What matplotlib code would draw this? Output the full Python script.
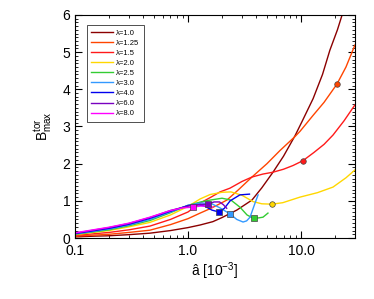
import matplotlib
matplotlib.use("Agg")
import matplotlib.pyplot as plt
from matplotlib.ticker import MultipleLocator, FixedLocator, FixedFormatter, LogLocator, NullFormatter

plt.rcParams['font.family'] = ['Liberation Sans', 'DejaVu Sans']
plt.rcParams['mathtext.fontset'] = 'custom'
plt.rcParams['mathtext.rm'] = 'Liberation Sans'
plt.rcParams['mathtext.it'] = 'Liberation Sans'

labels = ["λ=1.0", "λ=1.25", "λ=1.5", "λ=2.0", "λ=2.5", "λ=3.0", "λ=4.0", "λ=6.0", "λ=8.0"]
colors = ["#8B0000", "#FF4500", "#FF1A1A", "#FFD700", "#33CC33", "#3399FF", "#0000EE", "#7A00C0", "#FF00FF"]

a_l10 = [0.1, 0.15, 0.2, 0.3, 0.46, 0.7, 1.0, 1.28, 1.66, 2.0, 2.7, 3.68, 4.5, 5.65, 7.0, 8.85, 10.2, 12.8, 15.5, 18.0, 21.0, 23.1, 25.0]
b_l10 = [0.03, 0.05, 0.06, 0.09, 0.13, 0.2, 0.28, 0.35, 0.44, 0.55, 0.75, 1.02, 1.35, 1.77, 2.2, 2.75, 3.13, 3.75, 4.4, 5.05, 5.6, 6.0, 6.4]

a_l125 = [0.1, 0.2, 0.3, 0.46, 0.7, 1.0, 1.28, 1.6, 2.21, 2.8, 3.68, 5.0, 6.5, 8.85, 9.8, 12.8, 16.0, 20.8, 25.0, 30.0]
b_l125 = [0.05, 0.1, 0.15, 0.21, 0.36, 0.52, 0.67, 0.8, 1.02, 1.3, 1.64, 2.0, 2.35, 2.73, 2.87, 3.3, 3.65, 4.14, 4.6, 5.19]

a_l15 = [0.1, 0.2, 0.3, 0.46, 0.7, 1.0, 1.28, 1.6, 1.92, 2.35, 3.0, 3.68, 4.6, 5.65, 7.0, 8.5, 10.4, 13.0, 16.0, 19.2, 24.0, 30.0]
b_l15 = [0.07, 0.15, 0.22, 0.32, 0.5, 0.7, 0.94, 1.1, 1.24, 1.34, 1.52, 1.64, 1.72, 1.77, 1.85, 1.95, 2.08, 2.3, 2.52, 2.77, 3.15, 3.58]

a_l20 = [0.1, 0.2, 0.3, 0.46, 0.7, 1.0, 1.28, 1.57, 2.0, 2.4, 3.0, 3.76, 4.5, 5.53, 6.9, 9.8, 14.0, 19.2, 25.0, 30.0]
b_l20 = [0.09, 0.2, 0.3, 0.42, 0.62, 0.85, 1.05, 1.17, 1.23, 1.24, 1.15, 0.98, 0.92, 0.91, 0.95, 1.1, 1.22, 1.37, 1.62, 1.83]

a_l25 = [0.1, 0.2, 0.3, 0.46, 0.7, 1.0, 1.3, 1.57, 2.0, 2.4, 2.88, 3.33, 3.68, 3.84, 4.2, 4.61, 5.1]
b_l25 = [0.1, 0.22, 0.33, 0.47, 0.68, 0.88, 0.97, 1.02, 1.07, 1.02, 0.83, 0.62, 0.55, 0.54, 0.54, 0.56, 0.67]

a_l30 = [0.1, 0.2, 0.3, 0.46, 0.7, 1.0, 1.3, 1.6, 1.92, 2.36, 2.7, 3.07, 3.3, 3.54, 3.92, 4.17]
b_l30 = [0.11, 0.24, 0.35, 0.5, 0.7, 0.88, 0.94, 0.93, 0.81, 0.645, 0.5, 0.43, 0.46, 0.56, 0.94, 1.16]

a_l40 = [0.1, 0.2, 0.3, 0.46, 0.7, 1.0, 1.2, 1.4, 1.63, 1.88, 2.1, 2.36, 2.88, 3.5]
b_l40 = [0.12, 0.26, 0.37, 0.53, 0.72, 0.87, 0.9, 0.86, 0.75, 0.70, 0.8, 1.0, 1.16, 1.18]

a_l60 = [0.1, 0.2, 0.3, 0.46, 0.7, 1.0, 1.25, 1.5, 1.7, 1.9, 2.05, 2.2]
b_l60 = [0.13, 0.28, 0.39, 0.55, 0.74, 0.86, 0.9, 0.91, 0.97, 0.97, 0.9, 0.8]

a_l80 = [0.1, 0.2, 0.3, 0.46, 0.7, 0.9, 1.1, 1.3, 1.5, 1.65]
b_l80 = [0.14, 0.29, 0.4, 0.56, 0.74, 0.81, 0.83, 0.86, 0.86, 0.83]

series_a = [a_l10, a_l125, a_l15, a_l20, a_l25, a_l30, a_l40, a_l60, a_l80]
series_b = [b_l10, b_l125, b_l15, b_l20, b_l25, b_l30, b_l40, b_l60, b_l80]

# marker points (lambda index, a, B, marker)
mark_idx = [1, 2, 3, 4, 5, 6, 7, 8]
mark_a = [20.8, 10.4, 5.53, 3.84, 2.36, 1.88, 1.5, 1.1]
mark_b = [4.14, 2.08, 0.91, 0.54, 0.645, 0.70, 0.91, 0.83]
mark_shape = ["o", "o", "o", "s", "s", "s", "s", "s"]

xticks = [0.1, 1.0, 10.0]
xticklabels = ["0.1", "1.0", "10.0"]

fig = plt.figure(figsize=(3.74, 2.99), dpi=100)
ax = fig.add_axes([0.2005, 0.204, 0.7485, 0.746])

for a, b, c, lab in zip(series_a, series_b, colors, labels):
    ax.plot(a, b, color=c, lw=1.0, label=lab)

for i, xa, yb, m in zip(mark_idx, mark_a, mark_b, mark_shape):
    ax.plot([xa], [yb], marker=m, ms=4, color=colors[i], mec="#444444", mew=0.5, ls="none")

ax.set_xscale("log")
ax.set_xlim(0.1, 30)
ax.set_ylim(0, 6)
ax.xaxis.set_major_locator(FixedLocator(xticks))
ax.xaxis.set_major_formatter(FixedFormatter(xticklabels))
ax.xaxis.set_minor_locator(LogLocator(base=10, subs=range(2, 10)))
ax.xaxis.set_minor_formatter(NullFormatter())
ax.yaxis.set_major_locator(MultipleLocator(1))
ax.yaxis.set_minor_locator(MultipleLocator(0.1))

ax.tick_params(which="both", direction="in", top=True, right=True, labelsize=10, colors="black")
ax.tick_params(which="major", length=5, width=0.8)
ax.tick_params(which="minor", length=2.5, width=0.6)
ax.tick_params(axis="x", which="major", pad=4)
for s in ax.spines.values():
    s.set_linewidth(0.8)

ax.set_xlabel("â [10$^{-3}$]", fontsize=10, labelpad=2)
ax.set_ylabel(r"B$^{\rm tor}_{\rm max}$", fontsize=10, labelpad=6)

leg = ax.legend(loc="upper left", bbox_to_anchor=(0.043, 0.955), borderaxespad=0,
                fontsize=5.5, frameon=True, fancybox=False, edgecolor="black",
                handlelength=2.9, handletextpad=0.4, labelspacing=0.36, borderpad=0.55)
leg.get_frame().set_linewidth(0.6)

fig.savefig("out.png", dpi=100)
